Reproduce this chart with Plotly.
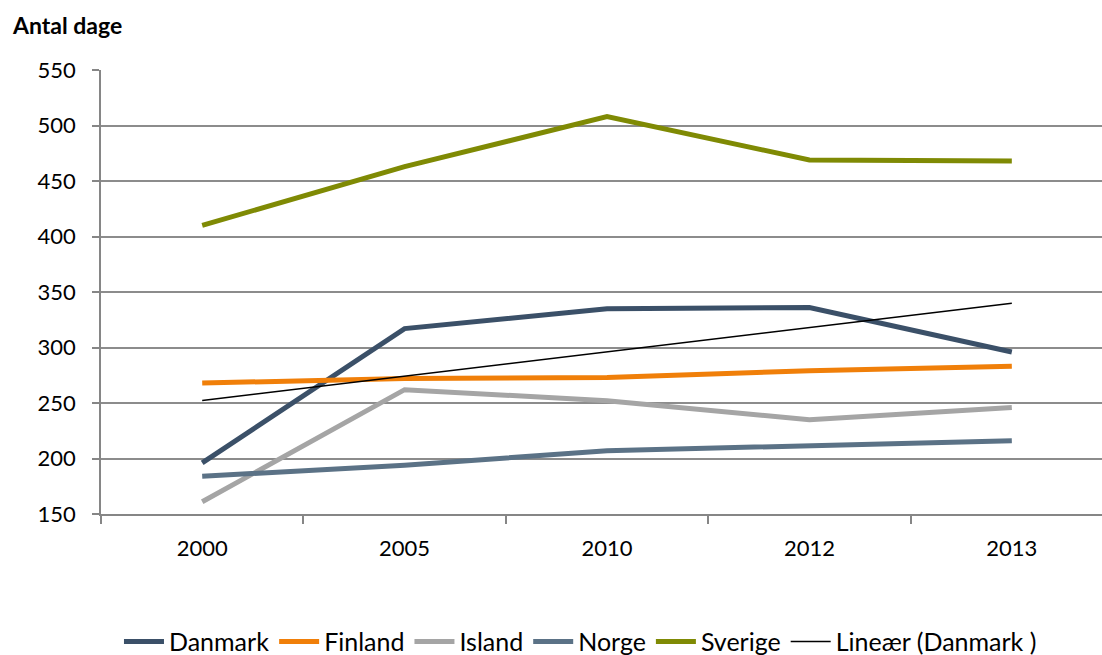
import numpy as np
import plotly.graph_objects as go

years = ["2000", "2005", "2010", "2012", "2013"]
danmark = [196, 317, 335, 336, 296]
finland = [268, 272, 273, 279, 283]
island = [161, 262, 252, 235, 246]
norge = [184, 194, 207, 212, 216]
sverige = [410, 463, 508, 469, 468]

series = [
    ("Danmark", danmark, "#3B5068"),
    ("Finland", finland, "#F07F09"),
    ("Island", island, "#A5A5A5"),
    ("Norge", norge, "#5B7286"),
    ("Sverige", sverige, "#7F8A04"),
]

FONT = "Lato, 'Open Sans', sans-serif"

fig = go.Figure()
for name, vals, col in series:
    fig.add_trace(go.Scatter(x=years, y=vals, name=name, mode="lines",
                             line=dict(color=col, width=5)))

idx = np.arange(1, len(years) + 1)
slope, inter = np.polyfit(idx, danmark, 1)
trend = slope * idx + inter
fig.add_trace(go.Scatter(x=years, y=trend, name="Lineær (Danmark )", mode="lines",
                         line=dict(color="black", width=1.5)))

fig.update_layout(
    width=1102, height=655,
    paper_bgcolor="white", plot_bgcolor="white",
    margin=dict(l=101, r=0, t=70, b=141, autoexpand=False),
    font=dict(family=FONT, size=22, color="black"),
    showlegend=True,
    legend=dict(orientation="h", x=0.479, xanchor="center", y=-0.236, yanchor="top",
                font=dict(size=25), itemwidth=40, tracegroupgap=0),
    annotations=[dict(text="<b>Antal dage</b>", xref="paper", yref="paper",
                      x=-91/1001, y=1 + 45/444, xanchor="left", yanchor="middle",
                      showarrow=False, font=dict(size=23))],
)

fig.update_xaxes(type="category", range=[-0.5, 4.5 - 11/202],
                 showline=True, linecolor="#868686", linewidth=1.5,
                 ticks="outside", tickson="boundaries", ticklen=8, tickcolor="#868686",
                 tickwidth=1.5, showgrid=False, tickfont=dict(size=22),
                 ticklabelstandoff=14)
fig.update_yaxes(range=[150, 550], dtick=50, showline=True, linecolor="#868686",
                 linewidth=1.5, ticks="outside", ticklen=7, tickcolor="#868686",
                 tickwidth=1.5, showgrid=True, gridcolor="#8C8C8C", gridwidth=1.5,
                 zeroline=False, tickfont=dict(size=22), ticklabelstandoff=12)

fig.write_html("out.html", config={"displayModeBar": False},
               post_script="document.body.style.margin='0';document.body.style.overflow='hidden';")
